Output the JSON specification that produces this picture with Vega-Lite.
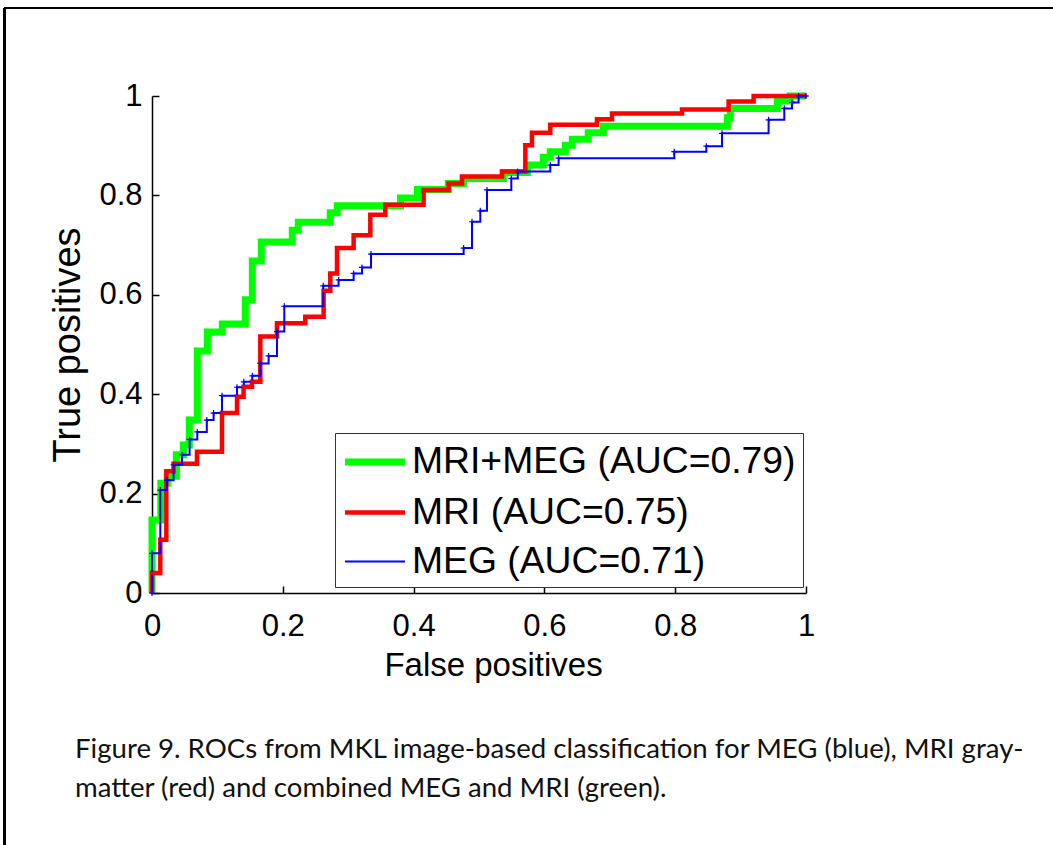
{
  "$schema": "https://vega.github.io/schema/vega-lite/v6.json",
  "width": 654,
  "height": 497,
  "autosize": "none",
  "padding": {"left": 152, "top": 96, "right": 247, "bottom": 252},
  "background": "white",
  "config": {
    "view": {"stroke": null},
    "font": "Liberation Sans",
    "axis": {
      "grid": false,
      "domainColor": "#000000",
      "domainWidth": 1.5,
      "tickColor": "#000000",
      "tickWidth": 1.5,
      "tickSize": -7,
      "labelFont": "Liberation Sans",
      "labelFontSize": 31,
      "labelColor": "#000000",
      "titleFont": "Liberation Sans",
      "titleFontSize": 33,
      "titleFontWeight": "normal",
      "titleColor": "#000000"
    },
    "legend": {
      "orient": "none",
      "legendX": 183,
      "legendY": 337,
      "strokeColor": "#333333",
      "fillColor": "white",
      "padding": 7,
      "rowPadding": 10.5,
      "symbolType": "M-1.62,0L1.62,0",
      "symbolSize": 1369,
      "symbolOffset": 11,
      "labelOffset": 15,
      "labelFont": "Liberation Sans",
      "labelFontSize": 37.3,
      "labelColor": "#000000",
      "labelLimit": 1000,
      "title": null
    }
  },
  "title": {
    "text": ["Figure 9. ROCs from MKL image-based classification for MEG (blue), MRI gray-", "matter (red) and combined MEG and MRI (green)."],
    "orient": "bottom",
    "anchor": "start",
    "frame": "group",
    "dx": -77,
    "offset": -110,
    "font": "Lato",
    "fontSize": 27.6,
    "fontWeight": "normal",
    "color": "#111111",
    "lineHeight": 39,
    "baseline": "top"
  },
  "datasets": {
    "roc": [
      {"s": "MRI+MEG", "i": 1, "x": 0, "y": 0},
      {"s": "MRI+MEG", "i": 2, "x": 0, "y": 0.147},
      {"s": "MRI+MEG", "i": 3, "x": 0.0135, "y": 0.221},
      {"s": "MRI+MEG", "i": 4, "x": 0.0234, "y": 0.235},
      {"s": "MRI+MEG", "i": 5, "x": 0.0372, "y": 0.278},
      {"s": "MRI+MEG", "i": 6, "x": 0.0479, "y": 0.298},
      {"s": "MRI+MEG", "i": 7, "x": 0.057, "y": 0.348},
      {"s": "MRI+MEG", "i": 8, "x": 0.0693, "y": 0.487},
      {"s": "MRI+MEG", "i": 9, "x": 0.0846, "y": 0.525},
      {"s": "MRI+MEG", "i": 10, "x": 0.1075, "y": 0.541},
      {"s": "MRI+MEG", "i": 11, "x": 0.1427, "y": 0.59},
      {"s": "MRI+MEG", "i": 12, "x": 0.1534, "y": 0.668},
      {"s": "MRI+MEG", "i": 13, "x": 0.1671, "y": 0.706},
      {"s": "MRI+MEG", "i": 14, "x": 0.2145, "y": 0.73},
      {"s": "MRI+MEG", "i": 15, "x": 0.2237, "y": 0.746},
      {"s": "MRI+MEG", "i": 16, "x": 0.2726, "y": 0.765},
      {"s": "MRI+MEG", "i": 17, "x": 0.2833, "y": 0.779},
      {"s": "MRI+MEG", "i": 18, "x": 0.38, "y": 0.795},
      {"s": "MRI+MEG", "i": 19, "x": 0.406, "y": 0.812},
      {"s": "MRI+MEG", "i": 20, "x": 0.4531, "y": 0.824},
      {"s": "MRI+MEG", "i": 21, "x": 0.476, "y": 0.834},
      {"s": "MRI+MEG", "i": 22, "x": 0.5372, "y": 0.846},
      {"s": "MRI+MEG", "i": 23, "x": 0.5739, "y": 0.861},
      {"s": "MRI+MEG", "i": 24, "x": 0.5983, "y": 0.877},
      {"s": "MRI+MEG", "i": 25, "x": 0.609, "y": 0.888},
      {"s": "MRI+MEG", "i": 26, "x": 0.632, "y": 0.901},
      {"s": "MRI+MEG", "i": 27, "x": 0.6427, "y": 0.913},
      {"s": "MRI+MEG", "i": 28, "x": 0.6671, "y": 0.926},
      {"s": "MRI+MEG", "i": 29, "x": 0.6901, "y": 0.939},
      {"s": "MRI+MEG", "i": 30, "x": 0.8797, "y": 0.956},
      {"s": "MRI+MEG", "i": 31, "x": 0.8842, "y": 0.975},
      {"s": "MRI+MEG", "i": 32, "x": 0.9561, "y": 0.99},
      {"s": "MRI+MEG", "i": 33, "x": 0.976, "y": 1},
      {"s": "MRI+MEG", "i": 34, "x": 1, "y": 1},
      {"s": "MRI", "i": 1, "x": 0, "y": 0},
      {"s": "MRI", "i": 2, "x": 0, "y": 0.04},
      {"s": "MRI", "i": 3, "x": 0.0127, "y": 0.107},
      {"s": "MRI", "i": 4, "x": 0.0219, "y": 0.245},
      {"s": "MRI", "i": 5, "x": 0.033, "y": 0.26},
      {"s": "MRI", "i": 6, "x": 0.0688, "y": 0.284},
      {"s": "MRI", "i": 7, "x": 0.107, "y": 0.362},
      {"s": "MRI", "i": 8, "x": 0.13, "y": 0.395},
      {"s": "MRI", "i": 9, "x": 0.14, "y": 0.415},
      {"s": "MRI", "i": 10, "x": 0.1529, "y": 0.425},
      {"s": "MRI", "i": 11, "x": 0.1656, "y": 0.516},
      {"s": "MRI", "i": 12, "x": 0.1911, "y": 0.543},
      {"s": "MRI", "i": 13, "x": 0.2344, "y": 0.556},
      {"s": "MRI", "i": 14, "x": 0.2624, "y": 0.608},
      {"s": "MRI", "i": 15, "x": 0.2726, "y": 0.643},
      {"s": "MRI", "i": 16, "x": 0.2829, "y": 0.694},
      {"s": "MRI", "i": 17, "x": 0.3083, "y": 0.72},
      {"s": "MRI", "i": 18, "x": 0.3338, "y": 0.761},
      {"s": "MRI", "i": 19, "x": 0.3567, "y": 0.781},
      {"s": "MRI", "i": 20, "x": 0.4153, "y": 0.811},
      {"s": "MRI", "i": 21, "x": 0.4535, "y": 0.824},
      {"s": "MRI", "i": 22, "x": 0.474, "y": 0.838},
      {"s": "MRI", "i": 23, "x": 0.5352, "y": 0.848},
      {"s": "MRI", "i": 24, "x": 0.5708, "y": 0.901},
      {"s": "MRI", "i": 25, "x": 0.581, "y": 0.926},
      {"s": "MRI", "i": 26, "x": 0.609, "y": 0.942},
      {"s": "MRI", "i": 27, "x": 0.6804, "y": 0.953},
      {"s": "MRI", "i": 28, "x": 0.7034, "y": 0.965},
      {"s": "MRI", "i": 29, "x": 0.8104, "y": 0.973},
      {"s": "MRI", "i": 30, "x": 0.8817, "y": 0.989},
      {"s": "MRI", "i": 31, "x": 0.9199, "y": 1},
      {"s": "MRI", "i": 32, "x": 1, "y": 1},
      {"s": "MEG", "i": 1, "x": 0, "y": 0},
      {"s": "MEG", "i": 2, "x": 0, "y": 0.08},
      {"s": "MEG", "i": 3, "x": 0.0127, "y": 0.207},
      {"s": "MEG", "i": 4, "x": 0.0229, "y": 0.227},
      {"s": "MEG", "i": 5, "x": 0.033, "y": 0.258},
      {"s": "MEG", "i": 6, "x": 0.0459, "y": 0.278},
      {"s": "MEG", "i": 7, "x": 0.0575, "y": 0.309},
      {"s": "MEG", "i": 8, "x": 0.0693, "y": 0.324},
      {"s": "MEG", "i": 9, "x": 0.0838, "y": 0.348},
      {"s": "MEG", "i": 10, "x": 0.0942, "y": 0.362},
      {"s": "MEG", "i": 11, "x": 0.107, "y": 0.397},
      {"s": "MEG", "i": 12, "x": 0.13, "y": 0.414},
      {"s": "MEG", "i": 13, "x": 0.1404, "y": 0.425},
      {"s": "MEG", "i": 14, "x": 0.1534, "y": 0.437},
      {"s": "MEG", "i": 15, "x": 0.1656, "y": 0.462},
      {"s": "MEG", "i": 16, "x": 0.1783, "y": 0.477},
      {"s": "MEG", "i": 17, "x": 0.1911, "y": 0.526},
      {"s": "MEG", "i": 18, "x": 0.2023, "y": 0.577},
      {"s": "MEG", "i": 19, "x": 0.2619, "y": 0.618},
      {"s": "MEG", "i": 20, "x": 0.2853, "y": 0.63},
      {"s": "MEG", "i": 21, "x": 0.3083, "y": 0.643},
      {"s": "MEG", "i": 22, "x": 0.3211, "y": 0.655},
      {"s": "MEG", "i": 23, "x": 0.3349, "y": 0.682},
      {"s": "MEG", "i": 24, "x": 0.4765, "y": 0.694},
      {"s": "MEG", "i": 25, "x": 0.4893, "y": 0.747},
      {"s": "MEG", "i": 26, "x": 0.502, "y": 0.769},
      {"s": "MEG", "i": 27, "x": 0.5122, "y": 0.811},
      {"s": "MEG", "i": 28, "x": 0.5494, "y": 0.834},
      {"s": "MEG", "i": 29, "x": 0.5593, "y": 0.848},
      {"s": "MEG", "i": 30, "x": 0.609, "y": 0.861},
      {"s": "MEG", "i": 31, "x": 0.6217, "y": 0.875},
      {"s": "MEG", "i": 32, "x": 0.7986, "y": 0.888},
      {"s": "MEG", "i": 33, "x": 0.8476, "y": 0.899},
      {"s": "MEG", "i": 34, "x": 0.8716, "y": 0.925},
      {"s": "MEG", "i": 35, "x": 0.9428, "y": 0.952},
      {"s": "MEG", "i": 36, "x": 0.9668, "y": 0.975},
      {"s": "MEG", "i": 37, "x": 0.9786, "y": 0.987},
      {"s": "MEG", "i": 38, "x": 0.9887, "y": 1},
      {"s": "MEG", "i": 39, "x": 1, "y": 1}
    ]
  },
  "data": {"name": "roc"},
  "layer": [
    {
      "mark": {"type": "rule", "color": "#000000", "strokeWidth": 2},
      "encoding": {
        "x": {"datum": -0.2258, "type": "quantitative", "scale": {"domain": [0, 1], "nice": false}},
        "x2": {"datum": 1.45},
        "y": {"datum": 1.1771, "type": "quantitative", "scale": {"domain": [0, 1], "nice": false}}
      }
    },
    {
      "mark": {"type": "rule", "color": "#000000", "strokeWidth": 2},
      "encoding": {
        "x": {"datum": -0.2258, "type": "quantitative", "scale": {"domain": [0, 1], "nice": false}},
        "y": {"datum": 1.1771, "type": "quantitative", "scale": {"domain": [0, 1], "nice": false}},
        "y2": {"datum": -0.507}
      }
    },
    {
      "mark": {"type": "line", "interpolate": "step-after"},
      "encoding": {
        "x": {
          "field": "x", "type": "quantitative",
          "scale": {"domain": [0, 1], "nice": false},
          "axis": {"values": [0, 0.2, 0.4, 0.6, 0.8, 1], "format": "~g", "title": "False positives", "labelFlush": false, "labelPadding": 25, "titlePadding": 8, "titleX": 341}
        },
        "y": {
          "field": "y", "type": "quantitative",
          "scale": {"domain": [0, 1], "nice": false},
          "axis": {"values": [0, 0.2, 0.4, 0.6, 0.8, 1], "format": "~g", "title": "True positives", "labelFlush": false, "labelPadding": 17, "titlePadding": 11, "titleFontSize": 38}
        },
        "color": {
          "field": "s", "type": "nominal",
          "scale": {"domain": ["MRI+MEG", "MRI", "MEG"], "range": ["#00ff00", "#ff0000", "#0000ff"]},
          "legend": {"labelExpr": "datum.label == 'MRI+MEG' ? 'MRI+MEG (AUC=0.79)' : datum.label == 'MRI' ? 'MRI (AUC=0.75)' : 'MEG (AUC=0.71)'"}
        },
        "strokeWidth": {
          "field": "s", "type": "nominal",
          "scale": {"domain": ["MRI+MEG", "MRI", "MEG"], "range": [7, 2, 1.2]},
          "legend": {"labelExpr": "datum.label == 'MRI+MEG' ? 'MRI+MEG (AUC=0.79)' : datum.label == 'MRI' ? 'MRI (AUC=0.75)' : 'MEG (AUC=0.71)'"}
        },
        "order": {"field": "i", "type": "quantitative"}
      }
    },
    {
      "transform": [{"filter": "datum.s == 'MRI'"}],
      "mark": {"type": "point", "filled": true, "shape": "circle", "size": 12, "color": "#ff0000", "opacity": 1},
      "encoding": {
        "x": {"field": "x", "type": "quantitative"},
        "y": {"field": "y", "type": "quantitative"}
      }
    },
    {
      "transform": [{"filter": "datum.s == 'MEG'"}],
      "mark": {"type": "point", "filled": false, "shape": "M-1,0L1,0M0,-1L0,1", "size": 36, "stroke": "#0000ff", "strokeWidth": 1.2, "opacity": 1},
      "encoding": {
        "x": {"field": "x", "type": "quantitative"},
        "y": {"field": "y", "type": "quantitative"}
      }
    }
  ]
}
